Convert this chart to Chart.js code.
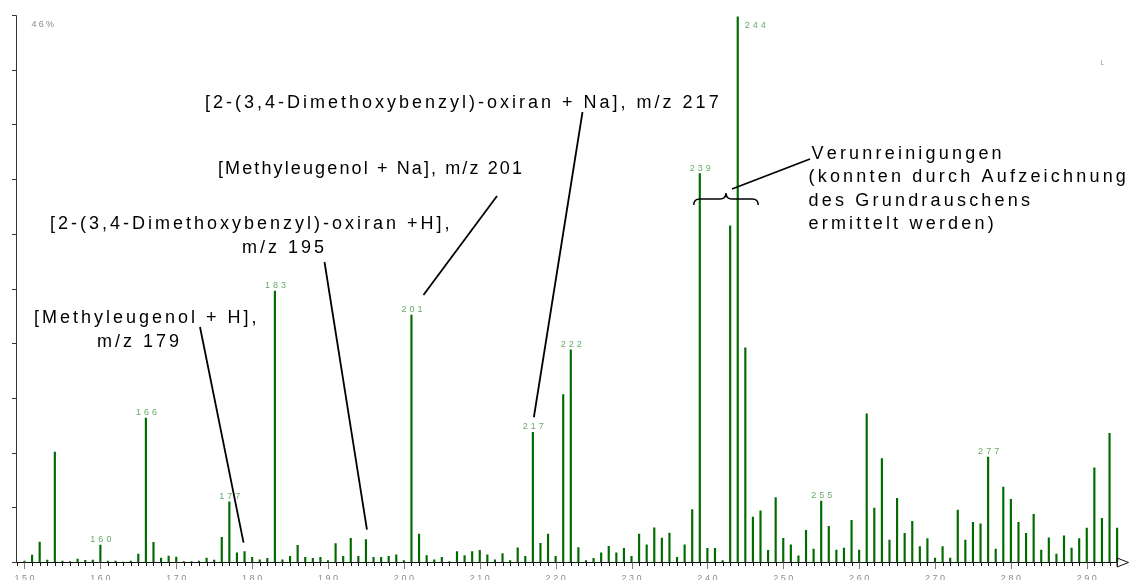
<!DOCTYPE html>
<html>
<head>
<meta charset="utf-8">
<script src="https://cdn.jsdelivr.net/npm/chart.js@4.4.1/dist/chart.umd.min.js"></script>
<style>
  html, body { margin: 0; padding: 0; background: #ffffff; }
  canvas { display: block; }
</style>
</head>
<body>
<canvas id="ms" width="1133" height="580"></canvas>
<script>
// m/z values of the spectrum (one line per nominal mass)
const massToCharge = [
  150,151,152,153,154,155,156,157,158,159,
  160,161,162,163,164,165,166,167,168,169,
  170,171,172,173,174,175,176,177,178,179,
  180,181,182,183,184,185,186,187,188,189,
  190,191,192,193,194,195,196,197,198,199,
  200,201,202,203,204,205,206,207,208,209,
  210,211,212,213,214,215,216,217,218,219,
  220,221,222,223,224,225,226,227,228,229,
  230,231,232,233,234,235,236,237,238,239,
  240,241,242,243,244,245,246,247,248,249,
  250,251,252,253,254,255,256,257,258,259,
  260,261,262,263,264,265,266,267,268,269,
  270,271,272,273,274,275,276,277,278,279,
  280,281,282,283,284,285,286,287,288,289,
  290,291,292,293,294
];

// relative intensity in % (full scale = 46 %)
const relIntensity = [
  0.08,0.59,1.68,0.17,9.25,0.08,0.04,0.25,0.13,0.17,
  1.43,0.08,0.08,0.00,0.08,0.67,12.11,1.66,0.34,0.50,
  0.42,0.04,0.03,0.08,0.34,0.17,2.08,5.07,0.78,0.87,
  0.40,0.19,0.31,22.79,0.19,0.48,1.40,0.40,0.31,0.40,
  0.11,1.54,0.48,1.99,0.48,1.88,0.40,0.40,0.48,0.61,
  0.11,20.77,2.35,0.53,0.19,0.40,0.03,0.87,0.53,0.87,
  0.98,0.61,0.19,0.70,0.11,1.20,0.48,10.91,1.57,2.35,
  0.48,14.07,17.85,1.22,0.11,0.31,0.78,1.32,0.78,1.15,
  0.48,2.35,1.45,2.88,2.02,2.44,0.40,1.45,4.40,32.66,
  1.15,1.15,0.11,28.28,45.85,18.02,3.78,4.31,0.98,5.41,
  1.99,1.45,0.52,2.67,1.09,5.13,3.00,1.01,1.18,3.51,
  1.01,12.45,4.54,8.69,1.85,5.36,2.41,3.42,1.29,1.96,
  0.34,1.29,0.34,4.37,1.85,3.34,3.22,8.83,1.09,6.31,
  5.27,3.34,2.41,4.01,1.01,2.04,0.67,2.21,1.18,1.96,
  2.86,7.91,3.68,10.82,2.86
];

// peaks that carry their m/z as a label
const labelledPeaks = [160, 166, 177, 183, 201, 217, 222, 239, 244, 255, 277];

// x-axis tick labels
const axisTicks = [150, 160, 170, 180, 190, 200, 210, 220, 230, 240, 250, 260, 270, 280, 290];

// full-scale value of the intensity axis and its label
const fullScale = 46;
const fullScaleLabel = '46%';
const yDivisions = 10;

// annotation texts
const labelMethyleugenolH = ['[Methyleugenol + H],', 'm/z 179'];
const labelOxiranH = ['[2-(3,4-Dimethoxybenzyl)-oxiran +H],', 'm/z 195'];
const labelMethyleugenolNa = ['[Methyleugenol + Na], m/z 201'];
const labelOxiranNa = ['[2-(3,4-Dimethoxybenzyl)-oxiran + Na], m/z 217'];
const labelImpurities = ['Verunreinigungen', '(konnten durch Aufzeichnung', 'des Grundrauschens', 'ermittelt werden)'];

const points = massToCharge.map((m, i) => ({ x: m, y: relIntensity[i] }));
const intensityOf = m => relIntensity[massToCharge.indexOf(m)];

function spacedWidth(ctx, text, sp) {
  let w = 0;
  for (const ch of text) w += ctx.measureText(ch).width;
  return w + sp * (text.length - 1);
}
function drawSpaced(ctx, text, x, y, sp, align) {
  const w = spacedWidth(ctx, text, sp);
  let cx = align === 'center' ? x - w / 2 : align === 'right' ? x - w : x;
  ctx.textAlign = 'left';
  for (const ch of text) {
    ctx.fillText(ch, cx, y);
    cx += ctx.measureText(ch).width + sp;
  }
}
// spread a text between two x positions
function drawFitted(ctx, text, x0, x1, y) {
  const natural = spacedWidth(ctx, text, 0);
  const sp = (x1 - x0 - natural) / (text.length - 1);
  drawSpaced(ctx, text, x0, y, sp, 'left');
}

const spectrumDecor = {
  id: 'spectrumDecor',
  afterDraw(chart) {
    const ctx = chart.ctx;
    const xs = chart.scales.x, ys = chart.scales.y;
    const area = chart.chartArea;
    const X = v => xs.getPixelForValue(v);
    const Y = v => ys.getPixelForValue(v);
    const base = Math.round(Y(0)) + 0.5;
    const axisX = Math.round(area.left) + 0.5;
    ctx.save();
    ctx.textBaseline = 'alphabetic';

    // intensity axis
    ctx.strokeStyle = '#333333';
    ctx.lineWidth = 1;
    ctx.beginPath();
    ctx.moveTo(axisX, Math.round(Y(fullScale)) + 0.5);
    ctx.lineTo(axisX, base);
    for (let i = 0; i <= yDivisions; i++) {
      const y = Math.round(Y(fullScale * i / yDivisions)) + 0.5;
      ctx.moveTo(axisX - 4.5, y);
      ctx.lineTo(axisX, y);
    }
    ctx.stroke();
    ctx.fillStyle = '#8a8a8a';
    ctx.font = '9px "Liberation Sans", Arial, sans-serif';
    drawSpaced(ctx, fullScaleLabel, axisX + 15, Y(fullScale) + 12, 2.2, 'left');

    // m/z axis with open arrow head
    const xEnd = X(massToCharge[massToCharge.length - 1]);
    ctx.strokeStyle = '#111111';
    ctx.beginPath();
    ctx.moveTo(axisX, base);
    ctx.lineTo(xEnd, base);
    ctx.stroke();
    ctx.beginPath();
    ctx.moveTo(xEnd, base - 4.5);
    ctx.lineTo(area.right, base);
    ctx.lineTo(xEnd, base + 4.5);
    ctx.closePath();
    ctx.stroke();

    // minor ticks at every nominal mass
    ctx.beginPath();
    ctx.strokeStyle = '#1a1a1a';
    for (let m = Math.ceil(xs.min); m <= massToCharge[massToCharge.length - 1]; m++) {
      if (axisTicks.includes(m)) continue;
      const x = Math.round(X(m)) + 0.5;
      ctx.moveTo(x, base);
      ctx.lineTo(x, base + 3.5);
    }
    ctx.stroke();
    // major ticks and their labels
    ctx.beginPath();
    ctx.strokeStyle = '#7a7a7a';
    for (const t of axisTicks) {
      const x = Math.round(X(t)) + 0.5;
      ctx.moveTo(x, base);
      ctx.lineTo(x, base + 6.5);
    }
    ctx.stroke();
    ctx.fillStyle = '#8c8c8c';
    ctx.font = '9px "Liberation Sans", Arial, sans-serif';
    for (const t of axisTicks) {
      drawSpaced(ctx, String(t), X(t), base + 18.5, 2.6, 'center');
    }

    // m/z labels over the labelled peaks
    ctx.fillStyle = 'rgb(104,170,104)';
    ctx.font = '9px "Liberation Sans", Arial, sans-serif';
    for (const m of labelledPeaks) {
      const x = X(m), top = Y(intensityOf(m));
      if (top - 10 < area.top) {
        drawSpaced(ctx, String(m), x + 7, area.top + 13, 3, 'left');
      } else {
        drawSpaced(ctx, String(m), x + 0.5, top - 3, 3, 'center');
      }
    }

    // small marker at the top right
    ctx.fillStyle = 'rgb(120,180,120)';
    ctx.font = '7px "Liberation Sans", Arial, sans-serif';
    ctx.fillText('L', 1100.5, 65);

    // annotation texts
    ctx.fillStyle = '#000000';
    ctx.font = '18px "Liberation Sans", Arial, sans-serif';
    const sp = 3;
    drawSpaced(ctx, labelOxiranNa[0], 205, 108, sp, 'left');
    drawFitted(ctx, labelMethyleugenolNa[0], 218, 522, 173.5);
    drawSpaced(ctx, labelOxiranH[0], 50, 229, sp, 'left');
    drawSpaced(ctx, labelOxiranH[1], 242, 253, sp, 'left');
    drawSpaced(ctx, labelMethyleugenolH[0], 34, 322.5, sp, 'left');
    drawSpaced(ctx, labelMethyleugenolH[1], 97, 346.5, sp, 'left');
    const impY = [158.5, 182, 205.5, 229];
    labelImpurities.forEach((t, i) => drawSpaced(ctx, t, i === 0 ? 811.5 : 808.5, impY[i], 3.2, 'left'));

    // leader lines from the texts to their peaks
    ctx.strokeStyle = '#000000';
    ctx.lineWidth = 1.8;
    ctx.lineCap = 'butt';
    const leader = (x0, y0, m, dx, dy) => {
      ctx.beginPath();
      ctx.moveTo(x0, y0);
      ctx.lineTo(X(m) + dx, Y(intensityOf(m)) - dy);
      ctx.stroke();
    };
    leader(200, 327, 179, -1, 9);
    leader(324.5, 262, 195, 1, 10);
    leader(497, 196, 201, 12, 20);
    leader(582.5, 112, 217, 1, 15);

    // curly brace over the impurity peaks and its pointer
    const bl = X(238.2), br = X(246.7), bm = (bl + br) / 2;
    ctx.lineWidth = 1.5;
    ctx.beginPath();
    ctx.moveTo(bl, 205);
    ctx.quadraticCurveTo(bl, 199, bl + 6, 199);
    ctx.lineTo(bm - 6, 199);
    ctx.quadraticCurveTo(bm, 199, bm, 193);
    ctx.quadraticCurveTo(bm, 199, bm + 6, 199);
    ctx.lineTo(br - 6, 199);
    ctx.quadraticCurveTo(br, 199, br, 205);
    ctx.stroke();
    ctx.lineWidth = 1.8;
    ctx.beginPath();
    ctx.moveTo(bm + 6, 189);
    ctx.lineTo(810, 159);
    ctx.stroke();

    ctx.restore();
  }
};

new Chart(document.getElementById('ms'), {
  type: 'bar',
  data: {
    datasets: [{
      data: points,
      backgroundColor: 'rgb(0,108,0)',
      borderWidth: 0,
      barThickness: 1.5
    }]
  },
  options: {
    responsive: false,
    animation: false,
    devicePixelRatio: 1,
    layout: { padding: { left: 16, right: 4.5, top: 15, bottom: 18 } },
    plugins: { legend: { display: false }, tooltip: { enabled: false } },
    scales: {
      x: { type: 'linear', min: 148.88, max: 295.5, display: false, offset: false },
      y: { min: 0, max: fullScale, display: false }
    }
  },
  plugins: [spectrumDecor]
});
</script>
</body>
</html>
